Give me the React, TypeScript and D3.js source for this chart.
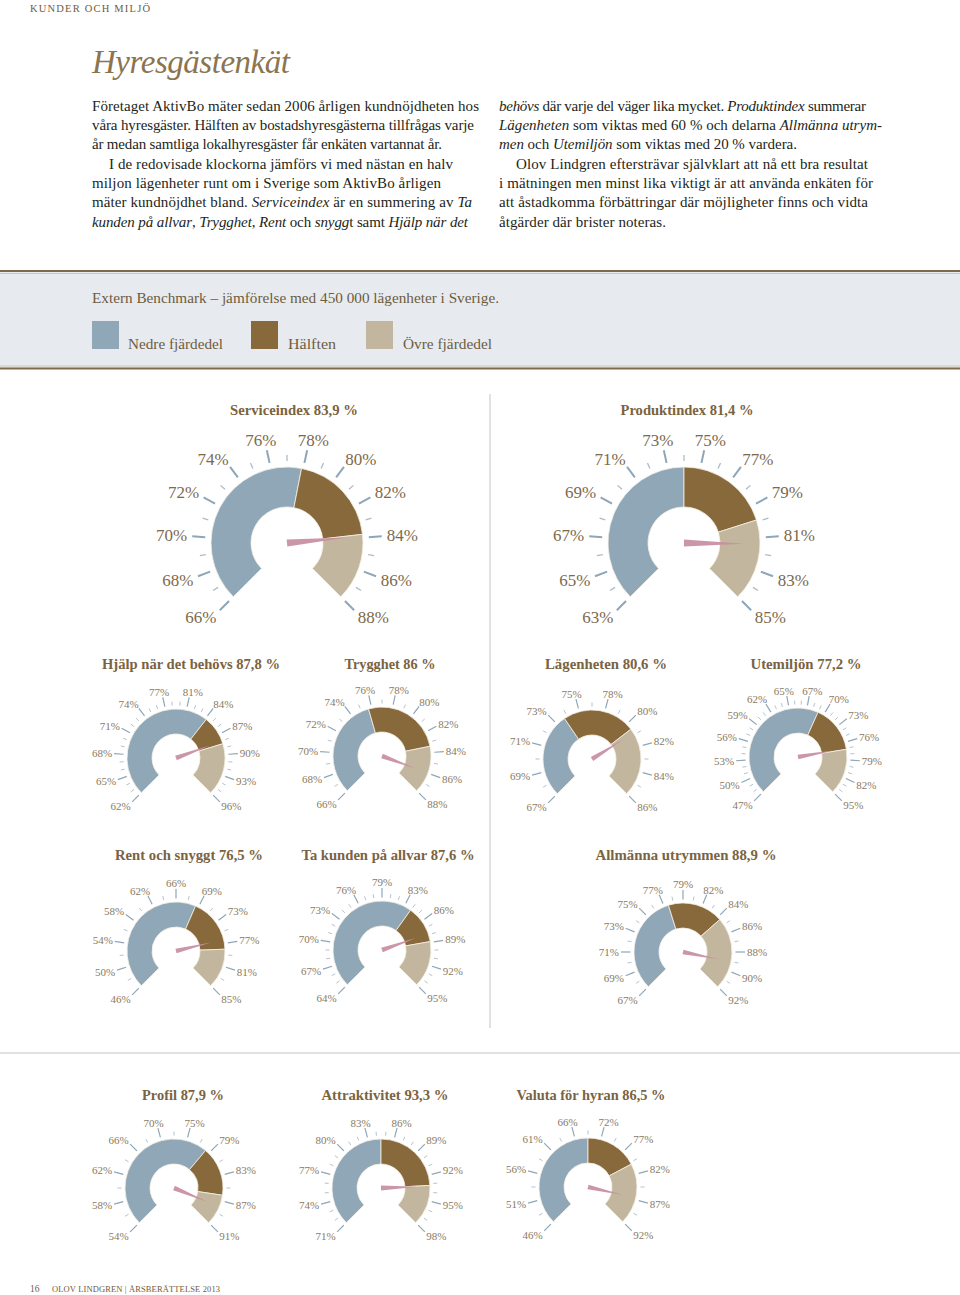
import React from "react";
import * as d3 from "d3";

// ---------- DATA ----------
const gaugeTitles = [
  "Serviceindex 83,9 %",
  "Produktindex 81,4 %",
  "Hjälp när det behövs 87,8 %",
  "Trygghet 86 %",
  "Lägenheten 80,6 %",
  "Utemiljön 77,2 %",
  "Rent och snyggt 76,5 %",
  "Ta kunden på allvar 87,6 %",
  "Allmänna utrymmen 88,9 %",
  "Profil 87,9 %",
  "Attraktivitet 93,3 %",
  "Valuta för hyran 86,5 %",
];
const gaugeValues = [83.9, 81.4, 87.8, 86, 80.6, 77.2, 76.5, 87.6, 88.9, 87.9, 93.3, 86.5];
const gaugeMin = [66, 63, 62, 66, 67, 47, 46, 64, 67, 54, 71, 46];
const gaugeMax = [88, 85, 96, 88, 86, 85, 85, 95, 92, 91, 98, 92];
const lowerQuartile = [77.9, 74, 83.8, 75.7, 74.1, 69.4, 68.9, 83.6, 77.9, 78, 84.5, 69];
const upperQuartile = [83.8, 79.9, 88.2, 83.4, 80.2, 77.4, 78.2, 88.7, 84, 86, 93.2, 79.6];
const tickLabels: number[][] = [
  [66, 68, 70, 72, 74, 76, 78, 80, 82, 84, 86, 88],
  [63, 65, 67, 69, 71, 73, 75, 77, 79, 81, 83, 85],
  [62, 65, 68, 71, 74, 77, 81, 84, 87, 90, 93, 96],
  [66, 68, 70, 72, 74, 76, 78, 80, 82, 84, 86, 88],
  [67, 69, 71, 73, 75, 78, 80, 82, 84, 86],
  [47, 50, 53, 56, 59, 62, 65, 67, 70, 73, 76, 79, 82, 95],
  [46, 50, 54, 58, 62, 66, 69, 73, 77, 81, 85],
  [64, 67, 70, 73, 76, 79, 83, 86, 89, 92, 95],
  [67, 69, 71, 73, 75, 77, 79, 82, 84, 86, 88, 90, 92],
  [54, 58, 62, 66, 70, 75, 79, 83, 87, 91],
  [71, 74, 77, 80, 83, 86, 89, 92, 95, 98],
  [46, 51, 56, 61, 66, 72, 77, 82, 87, 92],
];
const minorTicks = [1, 1, 2, 1, 1, 2, 1, 2, 1, 1, 2, 1];
const legendLabels = ["Nedre fjärdedel", "Hälften", "Övre fjärdedel"];

// ---------- LAYOUT / STYLE ----------
const layout = [
  { cx: 287, cy: 543, big: true, tx: 294, ty: 415, tw: 128 },
  { cx: 684, cy: 543, big: true, tx: 687, ty: 415, tw: 133 },
  { cx: 176, cy: 758, big: false, tx: 191, ty: 669, tw: 178 },
  { cx: 382, cy: 756, big: false, tx: 390, ty: 669, tw: 91 },
  { cx: 592, cy: 759, big: false, tx: 606, ty: 669, tw: 122 },
  { cx: 798, cy: 757, big: false, tx: 806, ty: 669, tw: 111 },
  { cx: 176, cy: 951, big: false, tx: 189, ty: 860, tw: 148 },
  { cx: 382, cy: 950, big: false, tx: 388, ty: 860, tw: 173 },
  { cx: 683, cy: 952, big: false, tx: 686, ty: 860, tw: 181 },
  { cx: 174, cy: 1188, big: false, tx: 183, ty: 1100, tw: 82 },
  { cx: 381, cy: 1188, big: false, tx: 385, ty: 1100, tw: 127 },
  { cx: 588, cy: 1187, big: false, tx: 591, ty: 1100, tw: 149 },
];
const bigSize = { R: 76, r0: 36, t0: 82, t1: 95, tm: 88, lab: 100, font: 17, nL: 60, nW: 3.6, tickW: 2, minorW: 1.3 };
const smallSize = { R: 49, r0: 24, t0: 52.5, t1: 62, tm: 56.5, lab: 64, font: 11, nL: 36, nW: 2.4, tickW: 1.2, minorW: 0.9 };

const C_BLUE = "#8fa7b7";
const C_BROWN = "#88693b";
const C_BEIGE = "#c3b69e";
const C_NEEDLE = "#c78ea1";
const C_TICK = "#8ea6b7";
const C_TITLE = "#7a6341";
const C_LABEL_BIG = "#7d6a4d";
const C_LABEL_SMALL = "#8a7a62";
const C_HEAD = "#6e5c3f";
const SERIF = "'Liberation Serif', 'DejaVu Serif', serif";

type Seg = [string, boolean];
const col1: { segs: Seg[]; indent: boolean; w: number }[] = [
  { segs: [["Företaget AktivBo mäter sedan 2006 årligen kundnöjdheten hos", false]], indent: false, w: 387 },
  { segs: [["våra hyresgäster. Hälften av bostadshyresgästerna tillfrågas varje", false]], indent: false, w: 382 },
  { segs: [["år medan samtliga lokalhyresgäster får enkäten vartannat år.", false]], indent: false, w: 350 },
  { segs: [["I de redovisade klockorna jämförs vi med nästan en halv", false]], indent: true, w: 344 },
  { segs: [["miljon lägenheter runt om i Sverige som AktivBo årligen", false]], indent: false, w: 349 },
  {
    segs: [["mäter kundnöjdhet bland. ", false], ["Serviceindex", true], [" är en summering av ", false], ["Ta", true]],
    indent: false, w: 380,
  },
  {
    segs: [["kunden på allvar", true], [", ", false], ["Trygghet", true], [", ", false], ["Rent", true], [" och ", false], ["snygg", true], ["t samt ", false], ["Hjälp när det", true]],
    indent: false, w: 376,
  },
];
const col2: { segs: Seg[]; indent: boolean; w: number }[] = [
  { segs: [["behövs", true], [" där varje del väger lika mycket. ", false], ["Produktindex", true], [" summerar", false]], indent: false, w: 367 },
  { segs: [["Lägenheten", true], [" som viktas med 60 % och delarna ", false], ["Allmänna utrym-", true]], indent: false, w: 383 },
  { segs: [["men", true], [" och ", false], ["Utemiljön", true], [" som viktas med 20 % vardera.", false]], indent: false, w: 298 },
  { segs: [["Olov Lindgren eftersträvar självklart att nå ett bra resultat", false]], indent: true, w: 352 },
  { segs: [["i mätningen men minst lika viktigt är att använda enkäten för", false]], indent: false, w: 374 },
  { segs: [["att åstadkomma förbättringar där möjligheter finns och vidta", false]], indent: false, w: 369 },
  { segs: [["åtgärder där brister noteras.", false]], indent: false, w: 167 },
];

function pt(cx: number, cy: number, a: number, r: number): [number, number] {
  return [cx + r * Math.sin(a), cy - r * Math.cos(a)];
}

function Gauge({ i }: { i: number }) {
  const L = layout[i];
  const S = L.big ? bigSize : smallSize;
  const { cx, cy } = L;
  const A0 = (-3 * Math.PI) / 4;
  const A1 = (3 * Math.PI) / 4;
  const ang = d3.scaleLinear().domain([gaugeMin[i], gaugeMax[i]]).range([A0, A1]);
  const labels = tickLabels[i];
  const idx = d3.scaleLinear().domain([0, labels.length - 1]).range([A0, A1]);
  const arc = d3.arc<any>();
  const segs = [
    { a: gaugeMin[i], b: lowerQuartile[i], c: C_BLUE },
    { a: lowerQuartile[i], b: upperQuartile[i], c: C_BROWN },
    { a: upperQuartile[i], b: gaugeMax[i], c: C_BEIGE },
  ];
  const step = (A1 - A0) / (labels.length - 1);
  const minors: number[] = [];
  for (let k = 0; k < labels.length - 1; k++) {
    for (let j = 1; j <= minorTicks[i]; j++) minors.push(idx(k) + (j * step) / (minorTicks[i] + 1));
  }
  const va = ang(gaugeValues[i]);
  const tip = pt(cx, cy, va, S.nL);
  const b1 = [cx + S.nW * Math.cos(va), cy + S.nW * Math.sin(va)];
  const b2 = [cx - S.nW * Math.cos(va), cy - S.nW * Math.sin(va)];
  return (
    <g>
      <text x={L.tx} y={L.ty} textAnchor="middle" fontFamily={SERIF} fontWeight="bold" fontSize={15} fill={C_TITLE}
        textLength={L.tw} lengthAdjust="spacingAndGlyphs">
        {gaugeTitles[i]}
      </text>
      {segs.map((s, k) => (
        <path key={k} transform={`translate(${cx},${cy})`}
          d={arc({ innerRadius: S.r0, outerRadius: S.R, startAngle: ang(s.a), endAngle: ang(s.b) }) || ""}
          fill={s.c} stroke="#f5f0e6" strokeWidth={0.8} />
      ))}
      {minors.map((a, k) => {
        const p0 = pt(cx, cy, a, S.t0);
        const p1 = pt(cx, cy, a, S.tm);
        return <line key={"m" + k} x1={p0[0]} y1={p0[1]} x2={p1[0]} y2={p1[1]} stroke={C_TICK} strokeOpacity={0.75} strokeWidth={S.minorW} />;
      })}
      {labels.map((v, k) => {
        const a = idx(k);
        const p0 = pt(cx, cy, a, S.t0);
        const p1 = pt(cx, cy, a, S.t1);
        const txt = `${v}%`;
        const w = S.font * (0.5 * String(v).length + 0.83);
        const h = S.font * 0.62;
        const P = pt(cx, cy, a, S.lab);
        const sx = Math.sign(Math.sin(a)) * Math.min(1, Math.abs(Math.sin(a)) * 1.5);
        const lx = P[0] + sx * (w / 2);
        const ly = P[1] - Math.cos(a) * (h / 2);
        return (
          <g key={"t" + k}>
            <line x1={p0[0]} y1={p0[1]} x2={p1[0]} y2={p1[1]} stroke={C_TICK} strokeWidth={S.tickW} />
            <text x={lx} y={ly} dy="0.35em" textAnchor="middle" fontFamily={SERIF} fontSize={S.font}
              fill={L.big ? C_LABEL_BIG : C_LABEL_SMALL}>
              {txt}
            </text>
          </g>
        );
      })}
      <polygon points={`${b1[0]},${b1[1]} ${tip[0]},${tip[1]} ${b2[0]},${b2[1]}`} fill={C_NEEDLE} fillOpacity={0.92} />
    </g>
  );
}

function BodyCol({ lines, x }: { lines: { segs: Seg[]; indent: boolean; w: number }[]; x: number }) {
  return (
    <g>
      {lines.map((ln, k) => (
        <text key={k} x={x + (ln.indent ? 17 : 0)} y={110.5 + k * 19.35} fontFamily={SERIF} fontSize={15} fill="#231f20"
          textLength={ln.w} lengthAdjust="spacing">
          {ln.segs.map((s, j) => (
            <tspan key={j} fontStyle={s[1] ? "italic" : "normal"}>{s[0]}</tspan>
          ))}
        </text>
      ))}
    </g>
  );
}

export default function App() {
  const legendX = [92, 251, 366];
  const legendTX = [128, 288, 403];
  const legendTW = [95, 48, 89];
  const legendC = [C_BLUE, C_BROWN, C_BEIGE];
  return (
    <svg width={960} height={1295} style={{ position: "absolute", left: 0, top: 0, background: "#fff" }}>
      <rect x={0} y={0} width={960} height={1295} fill="#fff" />
      {/* header */}
      <text x={30} y={12} fontFamily={SERIF} fontSize={10.5} fill={C_HEAD} textLength={120} lengthAdjust="spacing">
        KUNDER OCH MILJÖ
      </text>
      <text x={92} y={73} fontFamily={SERIF} fontStyle="italic" fontSize={33} fill="#8b7550" textLength={198} lengthAdjust="spacing">
        Hyresgästenkät
      </text>
      <BodyCol lines={col1} x={92} />
      <BodyCol lines={col2} x={499} />

      {/* benchmark band */}
      <rect x={0} y={271} width={960} height={98} fill="#e7ebef" />
      <line x1={0} x2={960} y1={271} y2={271} stroke="#806a4a" strokeWidth={2} />
      <line x1={0} x2={960} y1={273.5} y2={273.5} stroke="#cfc6b6" strokeWidth={1} />
      <line x1={0} x2={960} y1={366} y2={366} stroke="#cfc6b6" strokeWidth={1} />
      <line x1={0} x2={960} y1={368.5} y2={368.5} stroke="#806a4a" strokeWidth={2} />
      <text x={92} y={303} fontFamily={SERIF} fontSize={15} fill={C_HEAD} textLength={407} lengthAdjust="spacingAndGlyphs">
        Extern Benchmark – jämförelse med 450 000 lägenheter i Sverige.
      </text>
      {legendLabels.map((l, k) => (
        <g key={k}>
          <rect x={legendX[k]} y={321} width={27} height={28} fill={legendC[k]} />
          <text x={legendTX[k]} y={349} fontFamily={SERIF} fontSize={15} fill={C_HEAD} textLength={legendTW[k]} lengthAdjust="spacingAndGlyphs">
            {l}
          </text>
        </g>
      ))}

      {/* dividers */}
      <line x1={490} x2={490} y1={394} y2={1028} stroke="#c4c4c4" strokeWidth={1} />
      <line x1={0} x2={960} y1={1053} y2={1053} stroke="#c4c4c4" strokeWidth={1} />

      {gaugeTitles.map((_, i) => (
        <Gauge key={i} i={i} />
      ))}

      {/* footer */}
      <text x={30} y={1292} fontFamily={SERIF} fontSize={9.5} fill={C_HEAD}>16</text>
      <text x={52} y={1292} fontFamily={SERIF} fontSize={8.5} fill={C_HEAD} textLength={168} lengthAdjust="spacing">
        OLOV LINDGREN | ÅRSBERÄTTELSE 2013
      </text>
    </svg>
  );
}
